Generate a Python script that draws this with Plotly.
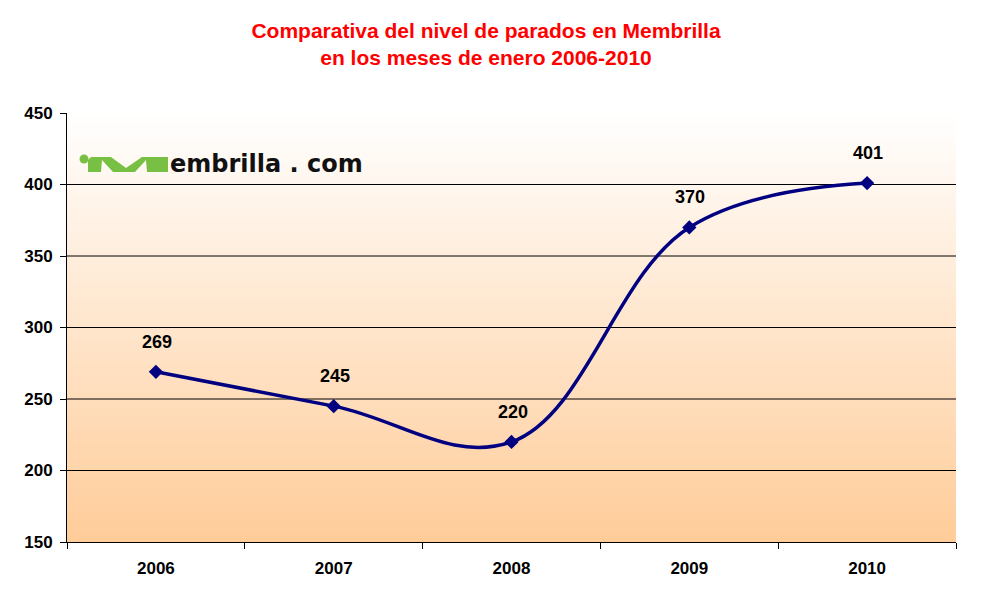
import plotly.graph_objects as go

years = ["2006", "2007", "2008", "2009", "2010"]
parados = [269, 245, 220, 370, 401]
y_ticks = [150, 200, 250, 300, 350, 400, 450]

# page is rendered with an 8px body margin
OFF = 8
W, H = 965, 590
PX0, PX1, PY0, PY1 = 67, 956, 113, 542          # plot area in page pixels
L, T = PX0 - OFF, PY0 - OFF
R, B = W - (PX1 - OFF), H - (PY1 - OFF)
PW, PH = PX1 - PX0, PY1 - PY0

def px2paper(px, py):
    return (px - PX0) / PW, (PY1 - py) / PH

FONT = "Arial, Liberation Sans, sans-serif"

fig = go.Figure()

fig.add_trace(go.Scatter(
    x=years, y=parados, mode="lines+markers",
    line=dict(color="#000080", width=3.5, shape="spline", smoothing=1.1),
    marker=dict(symbol="diamond", size=11, color="#000080"),
    hoverinfo="x+y", showlegend=False,
))

for i, yv in enumerate(parados):
    fig.add_annotation(x=i, y=yv, xref="x", yref="y", text=str(yv), showarrow=False,
                       yshift=30, xshift=1,
                       font=dict(family=FONT, size=18, color="black", weight="bold"))

shapes = []
# gradient background bands
n = 80
top = (255, 255, 255)
bot = (255, 204, 153)
for i in range(n):
    f = (i + 0.5) / n
    c = tuple(round(top[k] + (bot[k] - top[k]) * f) for k in range(3))
    shapes.append(dict(type="rect", xref="x domain", yref="y domain",
                       x0=0, x1=1, y0=1 - (i + 1) / n, y1=1 - i / n + 0.002,
                       fillcolor="rgb(%d,%d,%d)" % c, line=dict(width=0), layer="below"))

# logo (green stylised M)
def path(pts):
    s = ""
    for j, (a, b) in enumerate(pts):
        xp, yp = px2paper(a, b)
        s += ("M" if j == 0 else "L") + f"{xp:.5f},{yp:.5f} "
    return s + "Z"

green = "#77C043"
m_pts = [(88, 172), (88, 160), (91, 157), (111, 157), (126, 168), (142, 157),
         (168, 157), (168, 172), (147, 172), (146, 160), (135, 172),
         (113, 172), (102, 160), (101, 172)]
shapes.append(dict(type="path", xref="paper", yref="paper", path=path(m_pts),
                   fillcolor=green, line=dict(width=0)))
cx, cy = px2paper(84, 159)
rx, ry = 4.5 / PW, 4.5 / PH
shapes.append(dict(type="circle", xref="paper", yref="paper",
                   x0=cx - rx, x1=cx + rx, y0=cy - ry, y1=cy + ry,
                   fillcolor=green, line=dict(width=0)))

lx, ly = px2paper(168, 164)
fig.add_annotation(xref="paper", yref="paper", x=lx, y=ly, xanchor="left", yanchor="middle",
                   text="embrilla . com", showarrow=False,
                   font=dict(family="DejaVu Sans, Arial", size=24,
                             color="#111111", weight="bold"))

fig.update_layout(
    width=W, height=H,
    margin=dict(l=L, r=R, t=T, b=B),
    paper_bgcolor="white", plot_bgcolor="white",
    shapes=shapes,
    title=dict(text="Comparativa del nivel de parados en Membrilla<br>en los meses de enero 2006-2010",
               x=(486 - OFF) / W, xanchor="center", y=1 - 30 / H, yanchor="top",
               font=dict(family=FONT, size=21, color="#FF0000", weight="bold")),
    xaxis=dict(type="category", range=[-0.5, 4.5], tickson="boundaries",
               ticks="outside", ticklen=6, tickcolor="black", showgrid=False,
               showline=True, linecolor="black", linewidth=1,
               tickfont=dict(family=FONT, size=17, color="black", weight="bold"),
               ticklabelstandoff=11),
    yaxis=dict(range=[150, 450], tickvals=y_ticks, ticks="outside", ticklen=6,
               tickcolor="black", showgrid=False, zeroline=False,
               showline=True, linecolor="black", linewidth=1,
               tickfont=dict(family=FONT, size=17, color="black", weight="bold"),
               ticklabelstandoff=4),
)

# grid lines drawn above background bands
for v in y_ticks[1:-1]:
    fig.add_shape(type="line", xref="x domain", yref="y", x0=0, x1=1, y0=v, y1=v,
                  line=dict(color="black", width=1), layer="below")

fig.write_html("out.html")
